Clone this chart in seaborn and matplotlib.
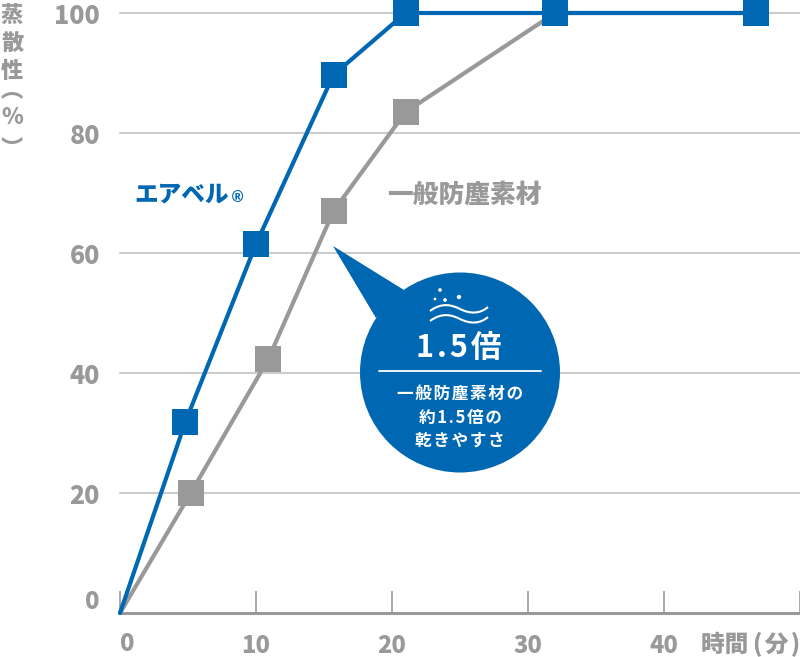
import matplotlib
matplotlib.use('Agg')
import matplotlib.pyplot as plt
from matplotlib.patches import Circle, Polygon, PathPatch
from matplotlib.path import Path
import pandas as pd
import seaborn as sns

# values
minutes = [0, 4.8, 10, 15.7, 21, 32, 46.8]
airbell = [0, 31.8, 61.5, 89.7, 100, 100, 100]
general = [0, 20, 42.3, 67, 83.5, 100, 100]
minutes_general = [0, 5.2, 10.9, 15.7, 21, 32, 46.8]
x_ticks = [0, 10, 20, 30, 40, 50]
x_tick_labels = ['', '10', '20', '30', '40', '']
y_ticks = [20, 40, 60, 80, 100]
y_tick_labels = ['20', '40', '60', '80', '100']

BLUE = '#0068b3'
GRAY = '#999999'
LIGHT = '#cccccc'
HAIR = '\u200a'

sns.set_theme(style='white')
plt.rcParams['font.family'] = ['Noto Sans CJK JP', 'DejaVu Sans']
plt.rcParams['font.weight'] = 'black'

W, H = 800, 657
fig = plt.figure(figsize=(W / 100, H / 100), dpi=100)
# plot area in pixels: x 120-800, y 13-613
ax = fig.add_axes([120 / W, (H - 613) / H, 680 / W, 600 / H])

df = pd.concat([
    pd.DataFrame({'t': minutes_general, 'v': general, 's': 'general'}),
    pd.DataFrame({'t': minutes, 'v': airbell, 's': 'airbell'}),
])
sns.lineplot(data=df, x='t', y='v', hue='s', palette={'general': GRAY, 'airbell': BLUE},
             estimator=None, sort=False, marker='s', markersize=19, markeredgewidth=0,
             markevery=list(range(1, 7)), linewidth=3, legend=False, clip_on=False,
             zorder=3, ax=ax)

ax.set_xlim(0, 50)
ax.set_ylim(0, 100)
ax.set_xlabel('')
ax.set_ylabel('')
for side in ['top', 'left', 'right']:
    ax.spines[side].set_visible(False)
ax.spines['bottom'].set_color(GRAY)
ax.spines['bottom'].set_linewidth(2.2)

ax.set_yticks(y_ticks)
ax.set_yticklabels(y_tick_labels)
ax.set_xticks(x_ticks)
ax.set_xticklabels(x_tick_labels)
ax.tick_params(axis='x', direction='in', length=16, width=1.2, color=GRAY, pad=14.5,
               labelsize=17, labelcolor=GRAY, bottom=True)
ax.tick_params(axis='y', length=0, pad=14.5, labelsize=18, labelcolor=GRAY)
ax.grid(axis='y', color=LIGHT, linewidth=1.5, clip_on=False)
ax.set_axisbelow(True)

# overlay in pixel coordinates for the callout and free text
ov = fig.add_axes([0, 0, 1, 1], facecolor='none')
ov.set_xlim(0, W)
ov.set_ylim(H, 0)
ov.axis('off')

ov.add_patch(Polygon([(333, 246), (404, 290), (376, 318)], closed=True, color=BLUE, lw=0))
ov.add_patch(Circle((460, 372.5), 100, color=BLUE, lw=0))

# wave icon
for y0 in [310, 320]:
    verts = [(430, y0 + 1), (442, y0 - 8), (452, y0 - 5), (460, y0 - 1),
             (470, y0 + 4), (480, y0 + 4), (488, y0 - 3)]
    codes = [Path.MOVETO] + [Path.CURVE4] * 6
    ov.add_patch(PathPatch(Path(verts, codes), fc='none', ec='white', lw=1.5))
ov.scatter([440, 459, 445, 435], [290, 297, 300, 299], s=[7, 10, 7, 4], color='white', lw=0)

ov.text(459, 348, HAIR.join('1.5倍'), color='white', fontsize=22, weight='bold', ha='center', va='center')
ov.plot([379, 541], [371, 371], color='white', lw=1.3)
for line, y in zip(['一般防塵素材の', '約1.5倍の', '乾きやすさ'], [394, 418, 441]):
    ov.text(460, y, HAIR.join(line), color='white', fontsize=12, weight='bold', ha='center', va='center')

ov.text(134, 194, 'エアベル', color=BLUE, fontsize=17, ha='left', va='center')
ov.text(238, 198, '®', color=BLUE, fontsize=11, weight='bold', family='DejaVu Sans', ha='center', va='center')
ov.text(387, 194, '一般防塵素材', color=GRAY, fontsize=18.5, ha='left', va='center')

ov.text(92, 602, '0', color=GRAY, fontsize=17, ha='center', va='center')
ov.text(127, 644, '0', color=GRAY, fontsize=17, ha='center', va='center')
ov.text(800, 645, '時間\u2009(' + HAIR + '分' + HAIR + ')', color=GRAY, fontsize=17, ha='right', va='center')

for ch, y in zip(['蒸', '散', '性', '%'], [15, 43, 72, 118]):
    ov.text(12, y, ch, color=GRAY, fontsize=16, ha='center', va='center')
ov.text(12, 90, '︵', color=GRAY, fontsize=16, ha='center', va='center')
ov.text(12, 149, '︶', color=GRAY, fontsize=16, ha='center', va='center')

fig.savefig('out.png', dpi=100)
